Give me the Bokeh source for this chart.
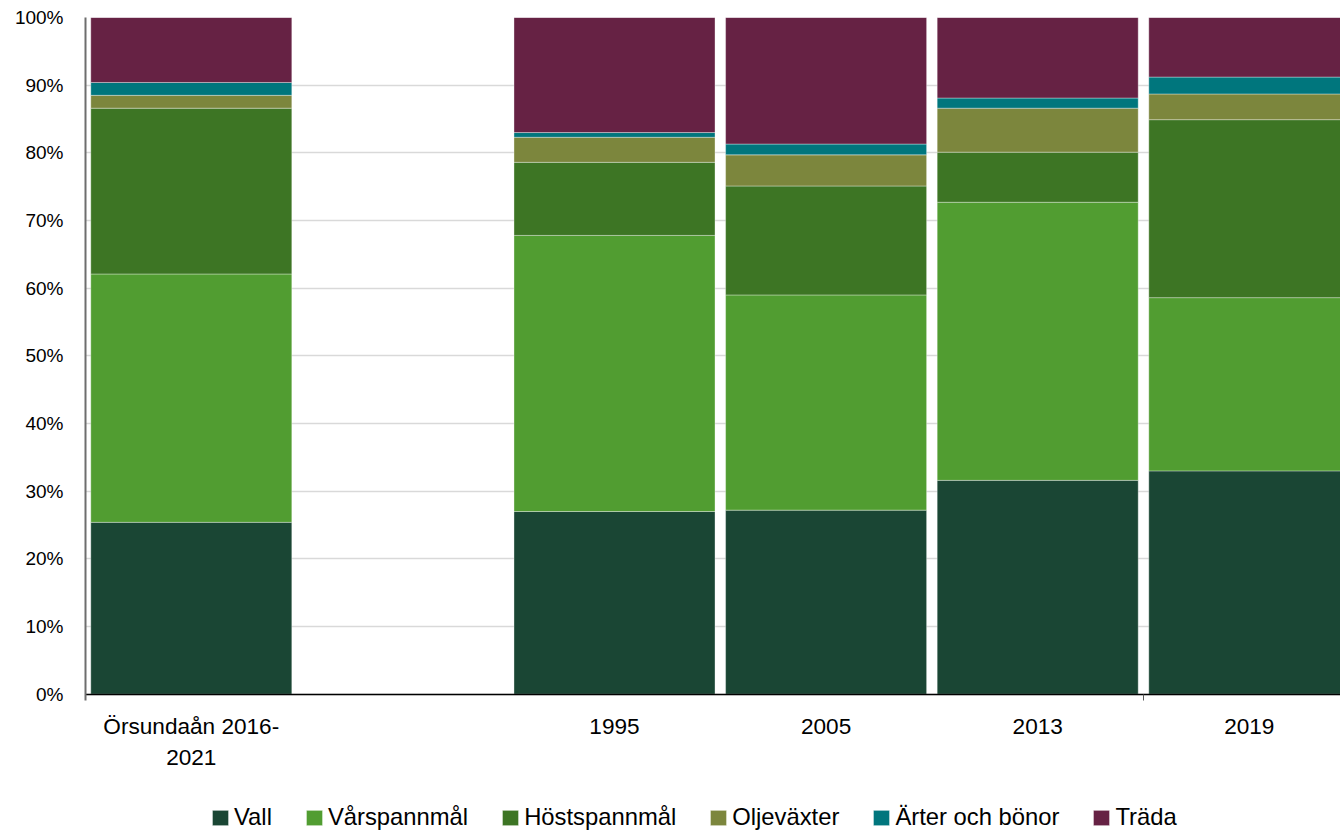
from bokeh.plotting import figure
from bokeh.models import ColumnDataSource, Range1d, FixedTicker, Legend, LegendItem
from bokeh.embed import file_html
from bokeh.resources import INLINE

# ---- data ----
categories = ["Örsundaån 2016-\n2021", "", "1995", "2005", "2013", "2019"]
series_names = ["Vall", "Vårspannmål", "Höstspannmål", "Oljeväxter", "Ärter och bönor", "Träda"]
vall = [25.4, 0, 27.0, 27.2, 31.6, 33.0]
varspannmal = [36.7, 0, 40.8, 31.8, 41.1, 25.6]
hostspannmal = [24.5, 0, 10.8, 16.1, 7.4, 26.3]
oljevaxter = [1.9, 0, 3.7, 4.6, 6.5, 3.8]
arter = [1.9, 0, 0.7, 1.6, 1.5, 2.5]
trada = [9.6, 0, 17.0, 18.7, 11.9, 8.8]
y_ticks = [0, 10, 20, 30, 40, 50, 60, 70, 80, 90, 100]

colors = ["#1A4634", "#519D31", "#3D7524", "#7C863D", "#00767D", "#662244"]
FONT = "Liberation Sans"

keys = ["s0", "s1", "s2", "s3", "s4", "s5"]
all_series = [vall, varspannmal, hostspannmal, oljevaxter, arter, trada]
idx = [i for i, c in enumerate(categories) if c != ""]
data = {"x": [i + 0.5 for i in idx]}
for k, s in zip(keys, all_series):
    data[k] = [s[i] for i in idx]
source = ColumnDataSource(data)

# frame spans 17px..834px; 100 % of the value axis takes 676.7 px
PX_PER_PCT = 676.7 / 100
y_min = 100 - 817 / PX_PER_PCT

p = figure(width=1340, height=834, output_backend="svg", toolbar_location=None,
           x_range=Range1d(0, 1255 / 211.6), y_range=Range1d(y_min, 100),
           min_border_left=85, min_border_right=0, min_border_top=17, min_border_bottom=0)
p.outline_line_color = None

renderers = p.vbar_stack(keys, x="x", width=0.95, source=source, color=colors,
                         line_color="white", line_alpha=0.35, line_width=1)

# x axis sits at the 0 % line
xa = p.xaxis[0]
xa.fixed_location = 0
xa.ticker = FixedTicker(ticks=[i + 0.5 for i in range(len(categories))], minor_ticks=[5])
xa.major_label_overrides = {i + 0.5: c for i, c in enumerate(categories)}
xa.major_tick_out = 0
xa.major_tick_in = 0
xa.minor_tick_out = 6
xa.minor_tick_in = 0
xa.minor_tick_line_color = "#595959"
xa.axis_line_color = "black"
xa.axis_line_width = 1.5
xa.major_label_text_font = FONT
xa.major_label_text_font_size = "22.6px"
xa.major_label_text_color = "black"
xa.major_label_text_line_height = 1.23
xa.major_label_standoff = 14

ya = p.yaxis[0]
ya.ticker = FixedTicker(ticks=y_ticks)
ya.bounds = (-1, 100)
ya.major_label_overrides = {t: f"{t}%" for t in y_ticks}
ya.major_tick_out = 0
ya.major_tick_in = 0
ya.minor_tick_out = 0
ya.minor_tick_in = 0
ya.axis_line_color = "#6e6e6e"
ya.axis_line_width = 2
ya.major_label_text_font = FONT
ya.major_label_text_font_size = "19px"
ya.major_label_text_color = "black"
ya.major_label_standoff = 22

p.xgrid.grid_line_color = None
p.ygrid.grid_line_color = "#d9d9d9"
p.ygrid.grid_line_width = 1.5

legend = Legend(items=[LegendItem(label=n, renderers=[r]) for n, r in zip(series_names, renderers)],
                location=(125, 3), orientation="horizontal",
                label_text_font=FONT, label_text_font_size="23.8px", label_text_color="black",
                glyph_width=20, glyph_height=19, label_standoff=4, spacing=32,
                padding=0, margin=0, border_line_alpha=0, background_fill_alpha=0)
p.add_layout(legend, "center")

open("out.html", "w").write(file_html(p, INLINE))
